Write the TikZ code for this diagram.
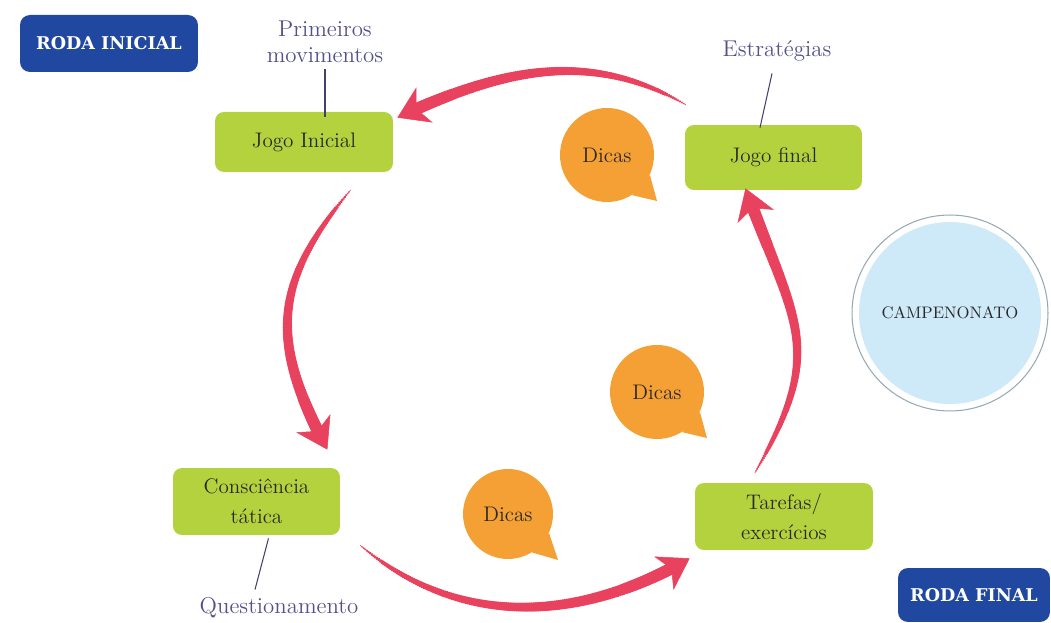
\documentclass[tikz,border=0pt]{standalone}
\usepackage{fontspec}
\usepackage{tikz}
\usetikzlibrary{arrows.meta,decorations.markings}

\newfontfamily\rodafont{DejaVu Serif}

\definecolor{rodablue}{RGB}{33,72,160}
\definecolor{boxgreen}{RGB}{180,210,62}
\definecolor{dicasorange}{RGB}{244,160,52}
\definecolor{arrowred}{RGB}{232,66,94}
\definecolor{campblue}{RGB}{206,233,248}
\definecolor{ringgray}{RGB}{150,170,180}
\definecolor{notecolor}{RGB}{84,80,138}
\definecolor{textdark}{RGB}{40,40,40}

\tikzset{
  roda/.style={rectangle, rounded corners=0.2cm, fill=rodablue, text=white,
    font=\rodafont\fontsize{10}{12}\selectfont\bfseries, minimum width=3.56cm, minimum height=1.14cm},
  etapa/.style={rectangle, rounded corners=0.18cm, fill=boxgreen, text=textdark,
    font=\fontsize{12}{17}\selectfont, align=center, minimum width=3.56cm, minimum height=1.3cm},
  dica/.style={circle, fill=dicasorange, text=textdark, font=\fontsize{12}{14}\selectfont,
    minimum size=1.88cm, inner sep=0pt},
  nota/.style={text=notecolor, font=\fontsize{13}{15}\selectfont, align=center},
  notaline/.style={draw=notecolor!80!black, line width=0.6pt},
  camp/.style={circle, draw=ringgray, line width=0.6pt, fill=white, minimum size=3.92cm,
    text=textdark, font=\fontsize{9.5}{11}\selectfont,
    path picture={\fill[campblue] (path picture bounding box.center) circle[radius=1.82cm];}},
  brush/.style={draw=arrowred, line width=0.3pt,
    -{Stealth[length=17pt,width=22pt,inset=5pt]},
    decoration={markings,
      mark=between positions 0 and 0.95 step 1.2pt with {
        \pgfmathsetmacro\brushr{0.2+3.4*sqrt(\pgfkeysvalueof{/pgf/decoration/mark info/distance from start}/\pgfdecoratedpathlength)}
        \fill[arrowred] (0,0) circle[radius=\brushr pt];}},
    postaction={decorate}},
}

\begin{document}
\begin{tikzpicture}[x=0.02cm, y=0.02cm]

\useasboundingbox (0,0) rectangle (1051,622);

% ============================================
% RODAS
% ============================================
\node[roda] (rodaini) at (109,578.5) {RODA INICIAL};
\node[roda, minimum width=3.04cm, minimum height=1.08cm] (rodafin) at (974,27) {RODA FINAL};

% ============================================
% ETAPAS
% ============================================
\node[etapa, minimum height=1.2cm] (jinicial) at (304,480) {Jogo Inicial};
\node[etapa, minimum width=3.54cm] (jfinal) at (773.5,464.5) {Jogo final};
\node[etapa, minimum width=3.34cm, minimum height=1.34cm] (consc) at (256.5,120.5) {Consciência\\tática};
\node[etapa, minimum height=1.34cm] (tarefas) at (784,105.5) {Tarefas/\\exercícios};

% ============================================
% NOTAS
% ============================================
\node[nota] (prim) at (325,580) {Primeiros\\movimentos};
\node[nota] (estrat) at (777,571) {Estratégias};
\node[nota] (quest) at (279,14) {Questionamento};

\draw[notaline] (prim.south) -- ([shift={(21,-5)}]jinicial.north);
\draw[notaline] ([shift={(-5,-6)}]estrat.south) -- ([shift={(-13.5,-3)}]jfinal.north);
\draw[notaline] ([shift={(12,-3)}]consc.south) -- ([shift={(-24,2)}]quest.north);

% ============================================
% DICAS
% ============================================
\node[dica] (d1) at (607,467) {Dicas};
\node[dica] (d2) at (657,230) {Dicas};
\node[dica, minimum size=1.8cm] (d3) at (508,108) {Dicas};
\foreach \d in {d1,d2,d3}
    \fill[dicasorange] (\d.-25) -- ([shift={(50,-46)}]\d.center) -- (\d.-58) -- cycle;

% ============================================
% CAMPENONATO
% ============================================
\node[camp] (campeon) at (950,309) {CAMPENONATO};

% ============================================
% SETAS
% ============================================
% Jogo final -> Jogo Inicial
\draw[brush] ([shift={(1,20)}]jfinal.north west) to[out=150,in=25] ([shift={(4,-6)}]jinicial.north east);
% Jogo Inicial -> Consciencia tatica
\draw[brush] ([shift={(-43,-18)}]jinicial.south east) to[out=230,in=118,looseness=1.2] ([shift={(-13,18)}]consc.north east);
% Consciencia tatica -> Tarefas
\draw[brush] ([shift={(20,-10)}]consc.south east) to[out=-40,in=210] ([shift={(-5,-8)}]tarefas.south west);
% Tarefas -> Jogo final
\draw[brush] ([shift={(-29,10)}]tarefas.north) to[out=60,in=-70,looseness=1.3] ([shift={(-28,2)}]jfinal.south);

\end{tikzpicture}
\end{document}
